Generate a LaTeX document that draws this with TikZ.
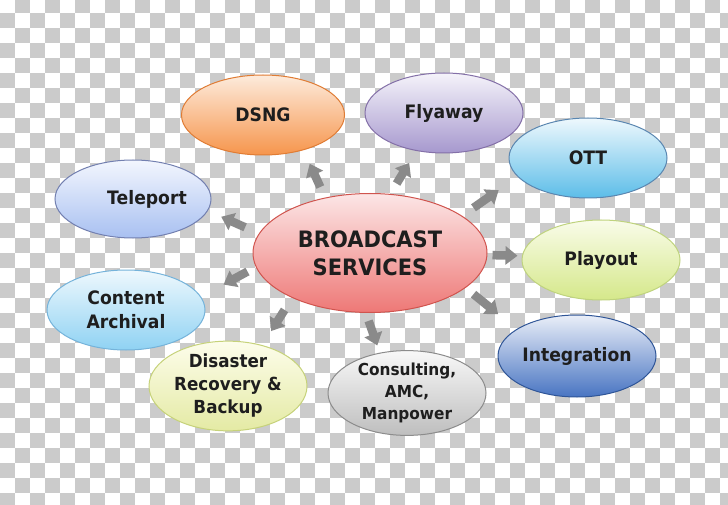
\documentclass[tikz,border=0pt]{standalone}
\usepackage{fontspec}
\setmainfont{DejaVu Sans}[FakeStretch=0.93]
\usetikzlibrary{arrows.meta,shapes.geometric}
\definecolor{checker}{HTML}{CBCBCB}
\definecolor{arrowgray}{HTML}{8A8A8A}
\definecolor{labeltext}{HTML}{1E1E1E}
\definecolor{redtop}{HTML}{FCE6E6}
\definecolor{redbot}{HTML}{EE7876}
\definecolor{redline}{HTML}{D0544E}
\definecolor{orangetop}{HTML}{FDEBDC}
\definecolor{orangebot}{HTML}{F6954C}
\definecolor{orangeline}{HTML}{E07C34}
\definecolor{violettop}{HTML}{F5F3FA}
\definecolor{violetbot}{HTML}{A698CE}
\definecolor{violetline}{HTML}{8470A8}
\definecolor{skytop}{HTML}{EEF8FD}
\definecolor{skybot}{HTML}{5CBDE8}
\definecolor{skyline}{HTML}{5A86B0}
\definecolor{periwinkletop}{HTML}{F3F6FE}
\definecolor{periwinklebot}{HTML}{A8C0F1}
\definecolor{periwinkleline}{HTML}{7380B0}
\definecolor{limetop}{HTML}{F9FCE9}
\definecolor{limebot}{HTML}{D5E88A}
\definecolor{limeline}{HTML}{BFD37E}
\definecolor{aquatop}{HTML}{EEF8FD}
\definecolor{aquabot}{HTML}{8FD2F3}
\definecolor{aqualine}{HTML}{75B3DA}
\definecolor{navytop}{HTML}{EAEFF8}
\definecolor{navybot}{HTML}{4874C2}
\definecolor{navyline}{HTML}{2F5597}
\definecolor{creamtop}{HTML}{FDFDEB}
\definecolor{creambot}{HTML}{E4EAA4}
\definecolor{creamline}{HTML}{C6D27A}
\definecolor{silvertop}{HTML}{F8F8F8}
\definecolor{silverbot}{HTML}{BEBEBE}
\definecolor{silverline}{HTML}{8C8C8C}

\begin{document}
\begin{tikzpicture}[x=1pt, y=-1pt,
  bubble/.style={ellipse, draw=#1line, top color=#1top, bottom color=#1bot, line width=1pt, inner sep=0pt,
    minimum width=158pt, minimum height=80pt, align=center, text=labeltext,
    font=\bfseries\fontsize{18.5}{24}\selectfont},
  pointer/.style 2 args={draw=arrowgray, line width=8.5pt, -{Triangle[width=18pt,length=12pt]},
    shorten <=#1pt, shorten >=#2pt}]
  \useasboundingbox (0,0) rectangle (728,505);
  % checkered background
  \fill[white] (0,0) rectangle (728,505);
  \begin{scope}
    \clip (0,0) rectangle (728,505);
    \foreach \j in {0,...,34}
      \foreach \i in {0,...,24}
        \fill[checker] ({(2*\i+1-mod(\j,2))*15},{\j*15-2}) rectangle ++(15,15);
  \end{scope}
  % hub
  \node[bubble=red, minimum width=234pt, minimum height=119pt, font=\bfseries\fontsize{22.6}{28}\selectfont] (broadcast) at (370,253) {BROADCAST\\SERVICES};
  % services
  \node[bubble=orange, minimum width=163pt] (dsng) at (263,115) {DSNG};
  \node[bubble=violet] (flyaway) at (444,113) {Flyaway};
  \node[bubble=sky] (ott) at (588,158) {OTT};
  \node[bubble=periwinkle, minimum width=156pt, minimum height=78pt] (teleport) at (133,199) {\hspace*{28pt}Teleport};
  \node[bubble=lime] (playout) at (601,260) {Playout};
  \node[bubble=aqua] (archival) at (126,310) {Content\\Archival};
  \node[bubble=navy, minimum height=82pt] (integration) at (577,356) {Integration};
  \node[bubble=cream, minimum height=82pt, font=\bfseries\fontsize{18}{23}\selectfont] (disaster) at (228,386) {Disaster\\Recovery \&\\Backup};
  \node[bubble=silver, font=\bfseries\fontsize{16.5}{22}\selectfont] (consulting) at (407,393) {Consulting,\\AMC,\\Manpower};
  % arrows
  \draw[pointer={11.6}{14.8}] (broadcast.129) -- (dsng.-41.5);
  \draw[pointer={12.1}{13.9}] (broadcast.71) -- (flyaway.234);
  \draw[pointer={13.9}{23.2}] (broadcast.22) -- (ott.195.5);
  \draw[pointer={5.1}{4.4}] (broadcast.-1) -- (playout.177);
  \draw[pointer={10.1}{23.6}] (broadcast.-20.4) -- (integration.156.9);
  \draw[pointer={8.4}{7.6}] (broadcast.266.3) -- (consulting.124);
  \draw[pointer={14.2}{16.6}] (broadcast.210.8) -- (disaster.50);
  \draw[pointer={9.4}{25.5}] (broadcast.187) -- (archival.10.7);
  \draw[pointer={15.1}{14.6}] (broadcast.170) -- (teleport.-9.3);
\end{tikzpicture}
\end{document}
